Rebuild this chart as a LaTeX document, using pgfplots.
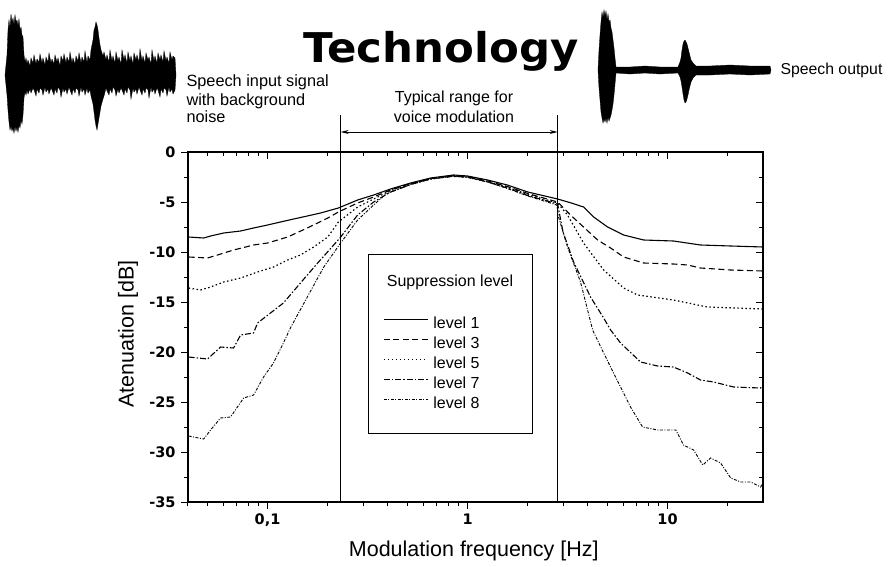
\documentclass[border=0pt]{standalone}
\usepackage{pgfplots}
\pgfplotsset{compat=1.18}
\usepackage{fontspec}
\setmainfont{Liberation Sans}
\newfontfamily\dejavu{DejaVu Sans}
\usetikzlibrary{arrows.meta}

\begin{document}
\begin{tikzpicture}[x=1pt,y=1pt]
\useasboundingbox (0,0) rectangle (888,566);
% ---------------- waveforms (pixel coordinates, y downwards)
\begin{axis}[at={(0pt,0pt)}, anchor=south west, scale only axis, width=888pt, height=566pt,
  xmin=0, xmax=888, ymin=0, ymax=566, y dir=reverse, hide axis, clip=false]
\addplot[black, fill=black, line width=0.3pt] coordinates {
(5,75)(7,55)(8,30)(9,20)(10,28)(11,14)(12,22)(13,18)(14,25)(15,15)(16,22)(17,20)(18,26)(19,19)(20,30)(21,27)(22,35)(23,37)(24,55)(25,62)(26,58)(27,64)(28,60)(30,66)(31,58)(33,63)(34,55)(36,64)(37,59)(39,62)(40,54)(42,63)(43,58)(45,65)(46,57)(48,62)(49,53)(51,63)(52,59)(54,64)(55,55)(57,62)(58,58)(60,66)(61,56)(63,61)(64,54)(66,63)(67,57)(69,62)(70,52)(72,63)(73,58)(75,64)(76,56)(78,61)(79,53)(81,63)(82,57)(84,62)(85,51)(87,63)(88,56)(90,60)(91,50)(93,40)(94,30)(95,27)(96,22)(97,25)(98,30)(99,38)(100,45)(101,50)(103,56)(104,52)(106,60)(107,55)(109,62)(110,50)(112,61)(113,56)(115,63)(116,52)(118,61)(119,57)(121,64)(122,50)(124,60)(125,55)(127,63)(128,52)(130,61)(131,56)(133,64)(134,53)(136,60)(137,55)(139,62)(140,49)(142,61)(143,56)(145,63)(146,53)(148,60)(149,57)(151,64)(152,50)(154,61)(155,56)(157,63)(158,53)(160,60)(161,55)(163,62)(164,51)(166,61)(167,57)(169,63)(170,52)(172,60)(173,56)(175,58)(176,75)
(175,90)(173,94)(172,89)(170,92)(169,87)(167,96)(166,90)(164,88)(163,93)(161,89)(160,97)(158,90)(157,88)(155,94)(154,89)(152,92)(151,87)(149,98)(148,90)(146,88)(145,93)(143,89)(142,95)(140,90)(139,87)(137,94)(136,89)(134,92)(133,88)(131,99)(130,90)(128,87)(127,93)(125,89)(124,95)(122,90)(121,88)(119,93)(118,89)(116,96)(115,90)(113,87)(112,93)(110,89)(109,95)(107,91)(106,88)(104,96)(103,99)(101,106)(100,112)(99,118)(98,124)(97,130)(96,126)(95,120)(94,112)(93,104)(91,96)(90,90)(88,93)(87,88)(85,95)(84,89)(82,92)(81,87)(79,96)(78,90)(76,88)(75,93)(73,89)(72,95)(70,90)(69,87)(67,94)(66,89)(64,92)(63,88)(61,97)(60,90)(58,87)(57,93)(55,89)(54,95)(52,90)(51,88)(49,94)(48,89)(46,92)(45,87)(43,95)(42,90)(40,88)(39,93)(37,89)(36,96)(34,90)(33,88)(31,93)(30,89)(28,94)(27,90)(26,95)(25,92)(24,98)(23,115)(22,124)(21,120)(20,128)(19,125)(18,132)(17,127)(16,131)(15,126)(14,133)(13,128)(12,131)(11,126)(10,130)(9,122)(8,110)(7,95)(5,75)
} -- cycle;
\addplot[black, fill=black, line width=0.3pt] coordinates {
(598,70)(599,50)(600,35)(601,22)(602,12)(603,18)(604,10)(605,16)(606,11)(607,20)(608,14)(609,22)(610,20)(611,28)(612,32)(613,40)(614,48)(615,58)(616,67)(630,67)(645,66)(660,67)(678,67)(680,62)(681,58)(682,50)(683,44)(684,41)(685,40)(686,42)(687,44)(688,48)(689,52)(690,56)(691,60)(693,63)(696,66)(710,66)(730,65)(750,66)(770,66)(771,70)
(770,74)(750,75)(730,74)(710,75)(696,75)(693,78)(691,82)(690,86)(689,90)(688,95)(687,99)(686,102)(685,103)(684,100)(683,94)(682,87)(681,81)(680,77)(678,73)(660,74)(645,73)(630,74)(616,73)(615,84)(614,95)(613,104)(612,110)(611,115)(610,118)(609,121)(608,117)(607,123)(606,118)(605,122)(604,119)(603,123)(602,118)(601,112)(600,100)(599,88)(598,70)
} -- cycle;
\end{axis}

% ---------------- main chart
\begin{axis}[at={(188pt,64pt)}, anchor=south west, scale only axis, width=575pt, height=350pt,
  xmode=log, xmin=0.04, xmax=30, ymin=-35, ymax=0,
  xtick={0.1,1,10}, xticklabels={0{,}1,1,10},
  minor xtick={0.04,0.05,0.06,0.07,0.08,0.09,0.2,0.3,0.4,0.5,0.6,0.7,0.8,0.9,2,3,4,5,6,7,8,9,20},
  ytick={-35,-30,...,0}, minor ytick={-32.5,-27.5,...,-2.5},
  tick align=outside, xtick pos=left, ytick pos=left,
  major tick length=7pt, minor tick length=4pt,
  every tick/.style={black, line width=1pt},
  axis line style={line width=1.2pt},
  /pgf/number format/assume math mode=true,
  ticklabel style={font=\dejavu\bfseries\fontsize{14.5}{14.5}\selectfont},
  yticklabel style={xshift=-2pt},
  xticklabel style={yshift=-1pt},
  xlabel={Modulation frequency [Hz]}, ylabel={Atenuation [dB]},
  label style={font=\fontsize{21.5}{24}\selectfont},
  xlabel style={at={(axis description cs:0.497,-0.14)}, anchor=center},
  ylabel style={at={(axis description cs:-0.1043,0.48)}, anchor=center},
  clip=false,
  legend style={at={(0.3391,0.543)}, anchor=north west, draw=none, fill=none, inner sep=0pt,
    row sep=0pt, column sep=5pt, font=\fontsize{16}{18}\selectfont,
    nodes={inner sep=0pt, text height=12pt, text depth=4pt}},
  legend cell align=left,
  legend image code/.code={\path[draw=none,fill=none] (0pt,-4pt) rectangle (44pt,12pt); \draw[#1] (0pt,5pt) -- (44pt,5pt);},
]
\addplot[black, line width=1.1pt] coordinates {
(0.0403,-8.5)(0.0479,-8.6)(0.0519,-8.4)(0.0603,-8.1)(0.0733,-7.9)(0.0851,-7.6)(0.1,-7.3)(0.116,-7.0)(0.135,-6.7)(0.158,-6.4)(0.184,-6.1)(0.226,-5.6)(0.282,-4.8)(0.339,-4.3)(0.412,-3.7)(0.519,-3.1)(0.653,-2.6)(0.851,-2.3)(1.0,-2.4)(1.26,-2.8)(1.58,-3.3)(2.0,-4.0)(2.82,-4.7)(3.30,-5.1)(3.80,-5.5)(4.27,-6.5)(5.01,-7.5)(6.03,-8.3)(7.59,-8.8)(10.7,-8.9)(14.6,-9.3)(20.7,-9.4)(30,-9.5)};
\addlegendentry{level 1}
\addplot[black, line width=1.1pt, dash pattern=on 6pt off 3.5pt] coordinates {
(0.0403,-10.5)(0.0501,-10.6)(0.0562,-10.3)(0.0676,-9.8)(0.0851,-9.3)(0.1,-9.1)(0.126,-8.5)(0.158,-7.6)(0.2,-6.6)(0.226,-6.0)(0.282,-5.1)(0.339,-4.5)(0.412,-3.8)(0.519,-3.15)(0.653,-2.65)(0.851,-2.35)(1.0,-2.45)(1.26,-2.9)(1.58,-3.45)(2.0,-4.15)(2.82,-5.0)(3.27,-6.3)(3.80,-7.5)(4.47,-8.8)(5.19,-9.6)(6.03,-10.5)(7.59,-11.1)(10.7,-11.2)(12.6,-11.3)(14.6,-11.6)(20.7,-11.8)(30,-11.9)};
\addlegendentry{level 3}
\addplot[black, line width=1.2pt, dash pattern=on 1.5pt off 2.5pt] coordinates {
(0.0403,-13.6)(0.0462,-13.8)(0.0519,-13.5)(0.0603,-13.0)(0.0733,-12.6)(0.0891,-12.0)(0.107,-11.5)(0.126,-10.8)(0.146,-10.3)(0.170,-9.5)(0.2,-8.5)(0.226,-7.0)(0.282,-5.5)(0.339,-4.7)(0.412,-3.85)(0.519,-3.2)(0.653,-2.7)(0.851,-2.4)(1.0,-2.5)(1.26,-2.95)(1.58,-3.5)(2.0,-4.25)(2.82,-5.1)(3.16,-6.3)(3.80,-9.1)(4.79,-11.8)(6.03,-13.6)(7.08,-14.3)(10.7,-14.8)(15.8,-15.5)(30,-15.7)};
\addlegendentry{level 5}
\addplot[black, line width=1.1pt, dash pattern=on 6pt off 2pt on 1.5pt off 2pt] coordinates {
(0.0403,-20.5)(0.0501,-20.7)(0.0582,-19.5)(0.0676,-19.6)(0.0733,-18.3)(0.0851,-18.1)(0.0891,-17.1)(0.120,-15.1)(0.146,-13.1)(0.178,-11.1)(0.23,-8.6)(0.282,-6.3)(0.339,-5.0)(0.412,-4.0)(0.519,-3.25)(0.653,-2.7)(0.851,-2.4)(1.0,-2.5)(1.26,-3.0)(1.58,-3.6)(2.0,-4.35)(2.82,-5.2)(3.0,-8.0)(3.39,-11.0)(4.12,-14.5)(4.79,-16.6)(5.19,-17.8)(5.82,-19.1)(7.33,-21.0)(8.91,-21.4)(10.7,-21.5)(12.6,-22.1)(14.6,-22.8)(17.0,-23.0)(21.4,-23.5)(29.2,-23.6)(30,-23.4)};
\addlegendentry{level 7}
\addplot[black, line width=0.9pt, dash pattern=on 3pt off 1.5pt on 1pt off 1.5pt] coordinates {
(0.0403,-28.4)(0.0479,-28.7)(0.0519,-27.8)(0.0582,-26.6)(0.0653,-26.5)(0.0759,-24.6)(0.0851,-24.3)(0.0955,-22.5)(0.107,-21.1)(0.120,-19.1)(0.130,-17.6)(0.158,-14.5)(0.191,-11.5)(0.23,-9.2)(0.282,-6.8)(0.339,-5.3)(0.39,-4.2)(0.519,-3.25)(0.653,-2.7)(0.851,-2.45)(1.0,-2.55)(1.26,-3.0)(1.58,-3.65)(2.0,-4.4)(2.79,-5.3)(2.85,-6.5)(3.16,-9.5)(3.67,-13.0)(4.22,-17.8)(4.79,-20.1)(5.82,-23.5)(6.53,-25.5)(7.50,-27.5)(8.91,-27.8)(11.0,-27.8)(12.0,-29.3)(13.5,-29.8)(15.0,-31.3)(16.4,-30.6)(18.4,-31.1)(20.7,-32.6)(23.2,-33.0)(26.0,-33.0)(29.2,-33.5)(30,-33.0)};
\addlegendentry{level 8}
% range markers
\draw[black, line width=1pt] (axis cs:0.232,-35) -- (axis cs:0.232,3.7);
\draw[black, line width=1pt] (axis cs:2.82,-35) -- (axis cs:2.82,3.7);
\draw[black, line width=0.9pt, {Stealth[length=8pt,width=4pt]}-{Stealth[length=8pt,width=4pt]}] (axis cs:0.232,2) -- (axis cs:2.82,2);
\end{axis}

% ---------------- inward ticks on top and right
\begin{axis}[at={(188pt,64pt)}, anchor=south west, scale only axis, width=575pt, height=350pt,
  xmode=log, xmin=0.04, xmax=30, ymin=-35, ymax=0,
  xtick={0.1,1,10}, xticklabels={},
  minor xtick={0.04,0.05,0.06,0.07,0.08,0.09,0.2,0.3,0.4,0.5,0.6,0.7,0.8,0.9,2,3,4,5,6,7,8,9,20},
  ytick={-35,-30,...,0}, yticklabels={}, minor ytick={-32.5,-27.5,...,-2.5},
  tick align=inside, xtick pos=right, ytick pos=right,
  major tick length=7pt, minor tick length=4pt,
  every tick/.style={black, line width=1pt},
  axis line style={line width=1.2pt}]
\addplot[draw=none] coordinates {(1,-10)};
\end{axis}

% ---------------- texts
\node[anchor=base, font=\dejavu\bfseries\fontsize{41}{41}\selectfont] at (441,503) {\scalebox{1.06}[1]{Technology}};
\node[anchor=base west, font=\fontsize{16.3}{18}\selectfont] at (183,479) {Speech input signal};
\node[anchor=base west, font=\fontsize{16.3}{18}\selectfont] at (183,460) {with background};
\node[anchor=base west, font=\fontsize{16.3}{18}\selectfont] at (183,443) {noise};
\node[anchor=base west, font=\fontsize{15.8}{18}\selectfont] at (777,491) {Speech output};
\node[anchor=base, font=\fontsize{16}{18}\selectfont] at (454,463) {Typical range for};
\node[anchor=base, font=\fontsize{16}{18}\selectfont] at (454,443) {voice modulation};
% legend frame and title
\draw[black, line width=1pt] (368,312) rectangle (532,133);
\node[anchor=base, font=\fontsize{16}{18}\selectfont] at (450,280) {Suppression level};
\end{tikzpicture}
\end{document}
